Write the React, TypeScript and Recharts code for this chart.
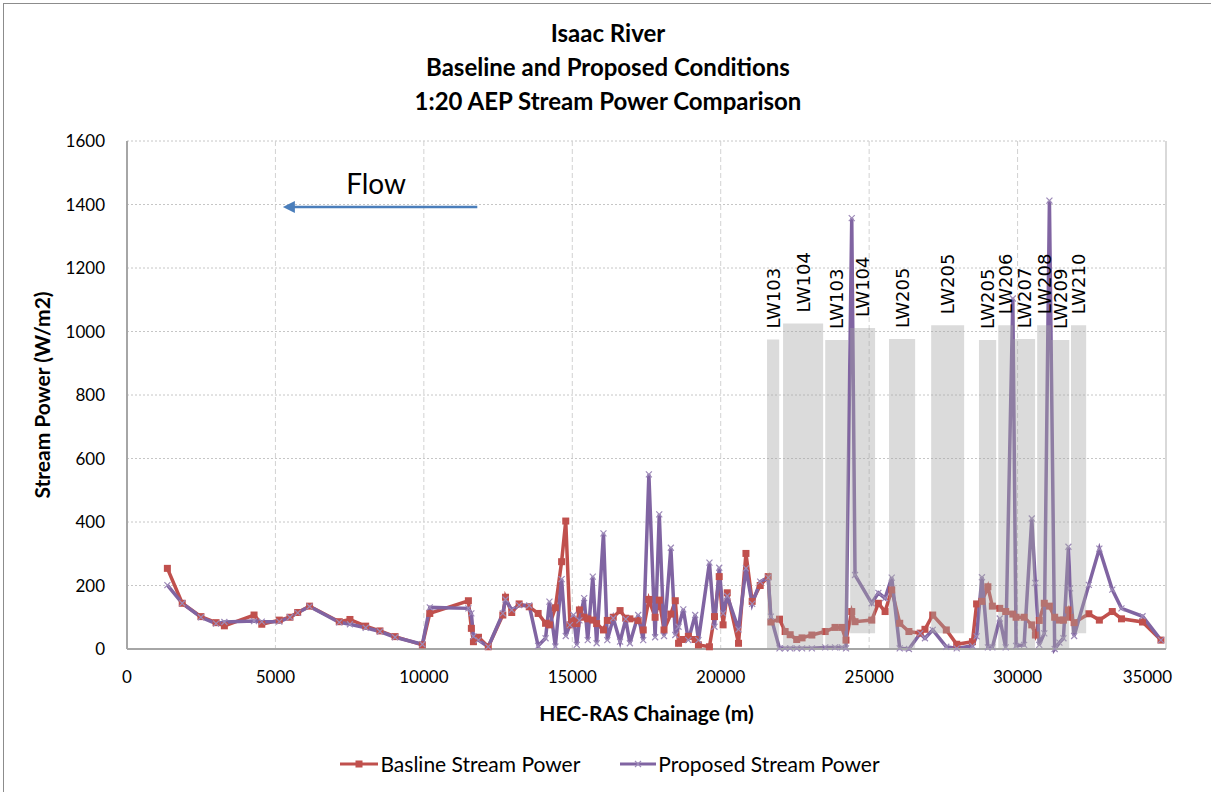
import React from "react";
import {
  LineChart,
  Line,
  XAxis,
  YAxis,
  CartesianGrid,
  ReferenceArea,
  ReferenceLine,
} from "recharts";

// HEC-RAS chainage (m) shared by both series
const chainage = [
  1360, 1860, 2490, 3000, 3280, 4280, 4540, 5130, 5490, 5750, 6150, 7150, 7510, 8040, 8520, 9030,
  9950, 10200, 11500, 11600, 11670, 11840, 12170, 12660, 12750, 12960, 13210, 13550, 13850, 14100,
  14230, 14430, 14640, 14780, 14920, 15040, 15150, 15240, 15400, 15520, 15690, 15820, 16050, 16180,
  16380, 16610, 16800, 16940, 17220, 17390, 17580, 17790, 17930, 18090, 18320, 18470, 18580, 18740,
  18910, 19140, 19250, 19620, 19790, 19950, 20080, 20220, 20600, 20850, 21060, 21330, 21600, 21690,
  21980, 22170, 22340, 22560, 22740, 23070, 23520, 23850, 24080, 24220, 24414, 24525, 25087, 25312,
  25537, 25761, 26030, 26340, 26720, 26880, 27141, 27600, 27950, 28480, 28620, 28800, 29000, 29150,
  29400, 29600, 29840, 29950, 30220, 30478, 30600, 30730, 30900, 31073, 31250, 31410, 31545, 31714,
  31770, 31905, 32400, 32755, 33190, 33500, 34210, 34830,
];

const baseline = [
  254, 144, 102, 83, 73, 107, 78, 91, 100, 115, 135, 86, 93, 72, 57, 39,
  13, 112, 152, 65, 23, 37, 7, 107, 163, 115, 142, 133, 112, 81,
  76, 130, 275, 403, 76, 90, 80, 123, 100, 95, 91, 80, 60, 90,
  100, 121, 97, 95, 90, 60, 156, 100, 154, 60, 110, 152, 18, 30,
  40, 30, 13, 7, 102, 228, 76, 177, 18, 301, 150, 200, 228, 85,
  94, 55, 45, 30, 35, 44, 55, 68, 68, 28, 118, 86, 91, 144,
  118, 186, 81, 55, 50, 62, 107, 60, 15, 23, 142, 150, 196, 135,
  128, 118, 110, 100, 100, 76, 44, 90, 144, 135, 100, 91, 91, 123,
  100, 83, 111, 91, 118, 95, 85, 28,
];

const proposed = [
  201, 144, 100, 80, 85, 88, 86, 86, 100, 114, 134, 84, 78, 67, 55, 37,
  15, 131, 128, 112, 40, 28, 7, 112, 156, 123, 138, 137, 10, 34,
  149, 8, 220, 41, 75, 107, 13, 90, 160, 28, 228, 18, 364, 28,
  97, 23, 94, 18, 107, 28, 550, 37, 424, 41, 319, 44, 70, 125,
  28, 107, 28, 272, 70, 256, 112, 167, 62, 254, 142, 212, 225, 102,
  2, 2, 2, 2, 2, 2, 5, 5, 5, 2, 1357, 233, 144, 177,
  160, 225, 2, 0, 49, 34, 60, 7, 2, 10, 40, 226, 5, 5,
  96, 5, 1104, 10, 13, 411, 208, 13, 49, 1412, 0, 20, 34, 322,
  191, 41, 202, 316, 187, 128, 103, 28,
];

// longwall panels (grey blocks)
const zoneNames = ["LW103", "LW104", "LW103", "LW104", "LW205", "LW205", "LW205", "LW206", "LW207", "LW208", "LW209", "LW210"];
const zoneStart = [21560, 22100, 23520, 24360, 25670, 27090, 28700, 29350, 29850, 30660, 31130, 31800];
const zoneEnd = [21970, 23450, 24290, 25200, 26550, 28200, 29280, 29850, 30590, 31130, 31740, 32310];
const zoneTop = [975, 1025, 973, 1011, 976, 1020, 973, 1020, 976, 1020, 973, 1020];
const zoneBase = [0, 0, 0, 50, 0, 50, 0, 0, 0, 0, 0, 50];

const xTicks = [0, 5000, 10000, 15000, 20000, 25000, 30000, 35000];
const yTicks = [0, 200, 400, 600, 800, 1000, 1200, 1400, 1600];

const data = chainage.map((c, i) => ({ chainage: c, baseline: baseline[i], proposed: proposed[i] }));

const RED = "#c0504d";
const PURPLE = "#8064a2";
const FONT = "Lato, 'Open Sans', sans-serif";

function SquareDot(props: any) {
  const { cx, cy, index } = props;
  if (cx == null || cy == null) return null;
  return <rect key={`b-${index}`} x={cx - 3.5} y={cy - 3.5} width={7} height={7} fill={RED} />;
}

function CrossDot(props: any) {
  const { cx, cy, index } = props;
  if (cx == null || cy == null) return null;
  return (
    <path
      key={`p-${index}`}
      d={`M${cx - 3},${cy - 3}L${cx + 3},${cy + 3}M${cx - 3},${cy + 3}L${cx + 3},${cy - 3}`}
      stroke="#9d8ab8"
      strokeWidth={1.2}
    />
  );
}

function ZoneLabel(props: any) {
  const { viewBox, text } = props;
  if (!viewBox) return null;
  const cx = viewBox.x + viewBox.width / 2;
  const y = viewBox.y - 11;
  return (
    <text
      x={cx}
      y={y}
      dy="0.36em"
      transform={`rotate(-90, ${cx}, ${y})`}
      textAnchor="start"
      fontFamily="'DejaVu Sans', sans-serif"
      fontSize={18}
      fill="#000"
    >
      {text}
    </text>
  );
}

function FlowArrow(props: any) {
  const { x1, y1, x2, y2 } = props;
  const mid = (x1 + x2) / 2;
  return (
    <g>
      <line x1={x1} y1={y1} x2={x2 + 10} y2={y2} stroke="#4a7ebb" strokeWidth={2.5} />
      <path d={`M${x2},${y2}L${x2 + 12},${y2 - 6}L${x2 + 12},${y2 + 6}Z`} fill="#4a7ebb" />
      <text x={mid - 4} y={y1 - 13} textAnchor="middle" fontFamily={FONT} fontSize={28} fill="#000">
        Flow
      </text>
    </g>
  );
}

function XTick(props: any) {
  const { x, y, payload } = props;
  const last = payload.value === 35000;
  return (
    <text
      x={last ? x + 6 : x}
      y={y}
      dy="0.71em"
      textAnchor={last ? "end" : "middle"}
      fontFamily={FONT}
      fontSize={17}
      fill="#000"
    >
      {payload.value}
    </text>
  );
}

export default function App() {
  return (
    <div style={{ position: "relative", width: 1211, height: 792, background: "#fff", overflow: "hidden" }}>
      <style>{"body{margin:0}"}</style>
      <div
        style={{
          position: "absolute",
          left: 3,
          top: 3,
          width: 1220,
          height: 800,
          borderLeft: "1px solid #8c8c8c",
          borderTop: "1px solid #8c8c8c",
        }}
      />
      <div
        style={{
          position: "absolute",
          left: 8,
          top: 16,
          width: 1200,
          textAlign: "center",
          fontFamily: FONT,
          fontWeight: 700,
          fontSize: 24,
          lineHeight: "34px",
          color: "#000",
        }}
      >
        <div>Isaac River</div>
        <div>Baseline and Proposed Conditions</div>
        <div>1:20 AEP Stream Power Comparison</div>
      </div>
      <div style={{ position: "absolute", left: 0, top: 0 }}>
        <LineChart width={1211} height={792} data={data} margin={{ top: 141, right: 45, left: 0, bottom: 0 }}>
          <CartesianGrid vertical={false} stroke="#c6c6c6" strokeDasharray="2 2" />
          <CartesianGrid horizontal={false} stroke="#d2d2d2" strokeDasharray="5 3" />
          <XAxis
            dataKey="chainage"
            type="number"
            domain={[0, 35000]}
            ticks={xTicks}
            interval={0}
            height={143}
            tickSize={0}
            tickMargin={22}
            tick={<XTick />}
            axisLine={{ stroke: "#a6a6a6", strokeWidth: 2 }}
            label={{
              content: (p: any) => (
                <text
                  x={p.viewBox.x + p.viewBox.width / 2}
                  y={p.viewBox.y + 72}
                  textAnchor="middle"
                  fontFamily={FONT}
                  fontWeight={700}
                  fontSize={21}
                  fill="#000"
                >
                  HEC-RAS Chainage (m)
                </text>
              ),
            }}
          />
          <YAxis
            type="number"
            domain={[0, 1600]}
            ticks={yTicks}
            interval={0}
            width={127}
            tickSize={0}
            tickMargin={22}
            tick={{ fontFamily: FONT, fontSize: 17, fill: "#000" }}
            axisLine={{ stroke: "#a6a6a6", strokeWidth: 2 }}
            label={{
              content: (p: any) => {
                const cx = 42;
                const cy = p.viewBox.y + p.viewBox.height / 2;
                return (
                  <text
                    x={cx}
                    y={cy}
                    dy="0.36em"
                    transform={`rotate(-90, ${cx}, ${cy})`}
                    textAnchor="middle"
                    fontFamily={FONT}
                    fontWeight={700}
                    fontSize={21}
                    fill="#000"
                  >
                    Stream Power (W/m2)
                  </text>
                );
              },
            }}
          />
          <ReferenceLine x={35000} stroke="#d9d9d9" strokeWidth={2} />
          <Line
            dataKey="baseline"
            stroke={RED}
            strokeWidth={3.5}
            dot={(p: any) => <SquareDot {...p} key={`b-${p.index}`} />}
            isAnimationActive={false}
          />
          <Line
            dataKey="proposed"
            stroke={PURPLE}
            strokeWidth={3.5}
            dot={(p: any) => <CrossDot {...p} key={`p-${p.index}`} />}
            isAnimationActive={false}
          />
          {zoneNames.map((name, i) => (
            <ReferenceArea
              key={`z-${i}`}
              x1={zoneStart[i]}
              x2={zoneEnd[i]}
              y1={zoneBase[i]}
              y2={zoneTop[i]}
              fill="#a6a6a6"
              fillOpacity={0.4}
              stroke="none"
              zIndex={1500}
              label={<ZoneLabel text={name} />}
            />
          ))}
          <ReferenceLine
            segment={[
              { x: 11800, y: 1392 },
              { x: 5250, y: 1392 },
            ]}
            shape={(p: any) => <FlowArrow {...p} />}
          />
        </LineChart>
      </div>
      <div
        style={{
          position: "absolute",
          left: 0,
          top: 752,
          width: 1220,
          display: "flex",
          justifyContent: "center",
          alignItems: "center",
          fontFamily: FONT,
          fontSize: 21,
          color: "#000",
          lineHeight: "24px",
        }}
      >
        <svg width={38} height={12} style={{ marginRight: 2 }}>
          <line x1={0} y1={6} x2={38} y2={6} stroke={RED} strokeWidth={3} />
          <rect x={15.5} y={2.5} width={7} height={7} fill={RED} />
        </svg>
        <span style={{ marginRight: 40 }}>Basline Stream Power</span>
        <svg width={36} height={12} style={{ marginRight: 2 }}>
          <line x1={0} y1={6} x2={36} y2={6} stroke={PURPLE} strokeWidth={3} />
          <path d="M15,3L21,9M15,9L21,3" stroke="#9d8ab8" strokeWidth={1.2} />
        </svg>
        <span>Proposed Stream Power</span>
      </div>
    </div>
  );
}
